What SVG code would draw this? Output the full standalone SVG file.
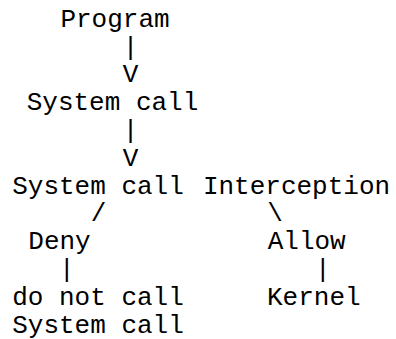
<svg xmlns="http://www.w3.org/2000/svg" width="396" height="339" viewBox="0 0 396 339">
<style>
text{font-family:"Liberation Mono","Courier New",monospace;font-size:26px;fill:#000;text-anchor:middle}
</style>
<rect width="396" height="339" fill="#fff"/>
<g id="connectors">
<text x="130.5" y="54.5">|</text>
<text x="130.5" y="82.3">V</text>
<text x="130.5" y="137.9">|</text>
<text x="130.5" y="165.7">V</text>
<text x="98.5" y="221.3">/</text>
<text x="275" y="221.3">\</text>
<text x="66.7" y="276.9">|</text>
<text x="322.7" y="276.9">|</text>
</g>
<g id="program"><text x="115" y="26.7">Program</text></g>
<g id="system-call"><text x="112.5" y="110.1">System call</text></g>
<g id="interception"><text x="98" y="193.5">System call</text><text x="296.5" y="193.5">Interception</text></g>
<g id="deny"><text x="59.5" y="249.1">Deny</text></g>
<g id="allow"><text x="306.7" y="249.1">Allow</text></g>
<g id="do-not-call"><text x="98" y="304.7">do not call</text><text x="98" y="332.5">System call</text></g>
<g id="kernel"><text x="313.8" y="304.7">Kernel</text></g>
</svg>
